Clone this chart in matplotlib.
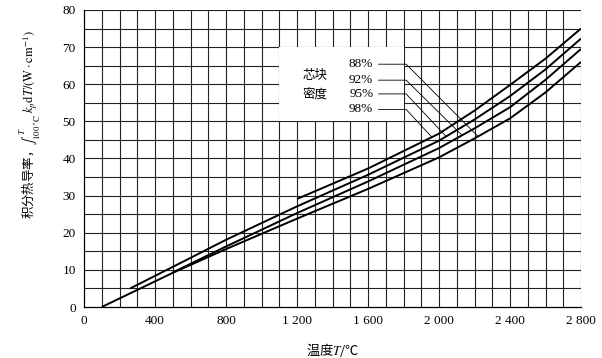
import numpy as np
import matplotlib
matplotlib.use("Agg")
import matplotlib.pyplot as plt
from matplotlib.patches import Rectangle

plt.rcParams['font.family'] = ['Liberation Serif', 'Noto Sans CJK SC', 'DejaVu Sans']
plt.rcParams['mathtext.fontset'] = 'stix'

# ---- data ----
T_88 = [100, 500, 800, 1200, 1600, 2000, 2200, 2400, 2600, 2800]
v_88 = [0.0, 9.2, 15.6, 23.8, 31.8, 40.3, 45.4, 50.8, 57.8, 66.0]

T_92 = [500, 800, 1200, 1600, 2000, 2200, 2400, 2600, 2800]
v_92 = [9.3, 16.3, 25.3, 33.8, 42.8, 48.1, 53.8, 61.2, 69.5]

T_95 = [260, 500, 800, 1200, 1600, 2000, 2200, 2400, 2600, 2800]
v_95 = [5.0, 10.8, 18.1, 27.1, 35.6, 44.8, 50.5, 56.8, 64.0, 72.3]

T_98 = [1200, 1600, 2000, 2200, 2400, 2600, 2800]
v_98 = [29.1, 37.3, 46.7, 52.9, 59.8, 66.9, 75.0]

labels = ['88%', '92%', '95%', '98%']
series = [(T_88, v_88), (T_92, v_92), (T_95, v_95), (T_98, v_98)]
# where each leader line meets its curve (temperature)
leader_T = [2220, 2130, 2040, 1960]
label_y = [65.4, 61.1, 57.4, 53.2]

xticks = [0, 400, 800, 1200, 1600, 2000, 2400, 2800]
xticklabels = ['0', '400', '800', '1 200', '1 600', '2 000', '2 400', '2 800']
yticks = list(range(0, 81, 10))

fig = plt.figure(figsize=(6.02, 3.58), dpi=100)
ax = fig.add_axes([84/602, 1-307/358, (581-84)/602, (307-10)/358])
ax.set_xlim(0, 2800)
ax.set_ylim(0, 80)

# grid
for xv in np.arange(100, 2801, 100):
    ax.axvline(xv, color='#222222', lw=0.8, zorder=1)
for yv in np.arange(5, 81, 5):
    ax.axhline(yv, color='#222222', lw=0.8, zorder=1)

# white label box
ax.add_patch(Rectangle((1100, 50), 700, 20, facecolor='white', edgecolor='none', zorder=2))

for T, v in series:
    ax.plot(T, v, color='black', lw=1.4, zorder=3, solid_capstyle='butt')

ax.text(1300, 62.4, '芯块', ha='center', va='center', fontsize=9,
        family=['Noto Sans CJK SC'], zorder=4)
ax.text(1300, 57.3, '密度', ha='center', va='center', fontsize=9,
        family=['Noto Sans CJK SC'], zorder=4)

for (T, v), lab, lt, ly in zip(series, labels, leader_T, label_y):
    ax.text(1630, ly, lab, ha='right', va='center', fontsize=9.5, zorder=4)
    ve = float(np.interp(lt, T, v))
    ax.plot([1660, 1815, lt], [ly, ly, ve], color='black', lw=0.6, zorder=4)

ax.set_xticks(xticks)
ax.set_xticklabels(xticklabels)
ax.set_yticks(yticks)
ax.tick_params(length=0, labelsize=9.5, pad=6)
for s in ['top', 'right']:
    ax.spines[s].set_visible(False)
for s in ['left', 'bottom']:
    ax.spines[s].set_linewidth(0.9)

ax.set_xlabel('温度$T$/℃', fontsize=9.5, labelpad=10, family='Noto Sans CJK SC')
fig.text(30/602, 1-125/358,
         r'积分热导率，$\int_{100\ ^{\circ}\mathrm{C}}^{T}\ k_p\mathrm{d}T/(\mathrm{W}\cdot\mathrm{cm}^{-1})$',
         rotation=90, ha='center', va='center', fontsize=9, family='Noto Sans CJK SC')

fig.savefig('out.png', dpi=100)
